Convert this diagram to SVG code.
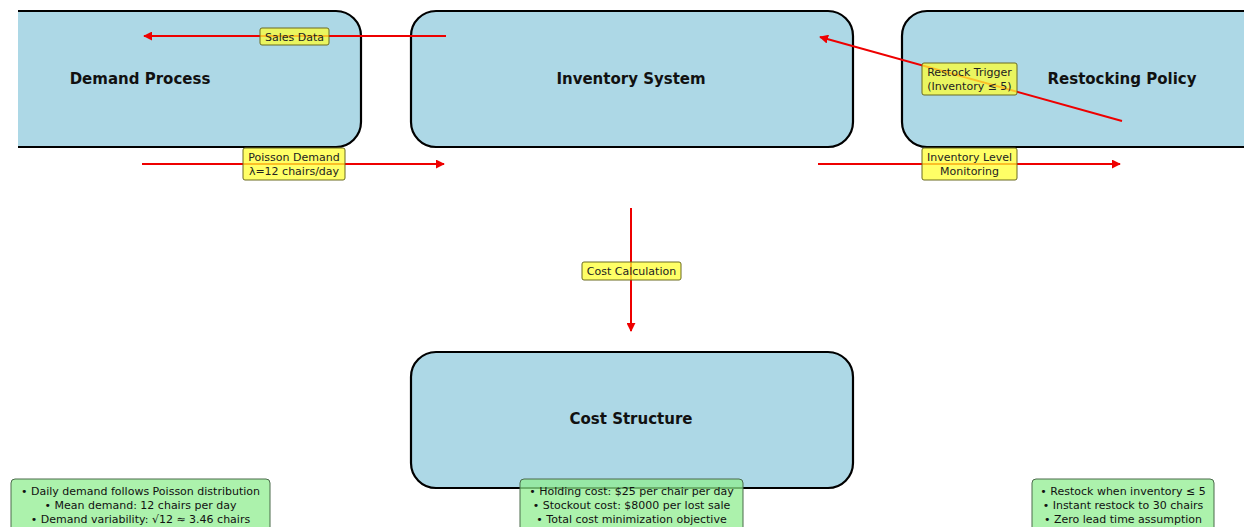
<svg xmlns="http://www.w3.org/2000/svg" width="1244" height="527" viewBox="0 0 1244 527">
<style>
.node{fill:#add8e6;stroke:#000;stroke-width:2.2}
.title{font-family:"DejaVu Sans",sans-serif;font-weight:bold;font-size:15px;fill:#111;text-anchor:middle}
.conn{stroke:#ee0000;stroke-width:2;fill:none;marker-end:url(#ah)}
.lbl{fill:#ffff33;fill-opacity:0.75;stroke:#6b6b20;stroke-width:1}
.lt{font-family:"DejaVu Sans",sans-serif;font-size:11px;fill:#222;text-anchor:middle}
.info{fill:#90ee90;fill-opacity:0.75;stroke:#4a6a4a;stroke-width:1}
.it{font-family:"DejaVu Sans",sans-serif;font-size:11px;fill:#111;text-anchor:middle}
</style>
<defs>
<marker id="ah" viewBox="0 0 10 10" refX="9" refY="5" markerWidth="4.5" markerHeight="4.5" orient="auto" markerUnits="strokeWidth">
<path d="M0,0 L10,5 L0,10 z" fill="#ee0000"/>
</marker>
<clipPath id="vis"><rect x="18" y="0" width="1226" height="527"/></clipPath>
</defs>
<rect width="1244" height="527" fill="#fff"/>
<g id="node-demand" clip-path="url(#vis)">
<rect class="node" x="-100" y="11" width="461" height="136" rx="25"/>
<text class="title" x="140" y="84">Demand Process</text>
</g>
<g id="node-inventory">
<rect class="node" x="411" y="11" width="442" height="136" rx="25"/>
<text class="title" x="631" y="84">Inventory System</text>
</g>
<g id="node-restocking">
<rect class="node" x="902" y="11" width="442" height="136" rx="25"/>
<text class="title" x="1122" y="84">Restocking Policy</text>
</g>
<g id="node-cost">
<rect class="node" x="411" y="352" width="442" height="136" rx="25"/>
<text class="title" x="631" y="424">Cost Structure</text>
</g>
<g id="connectors">
<line class="conn" x1="446" y1="36" x2="144" y2="36"/>
<line class="conn" x1="142" y1="164" x2="444" y2="164"/>
<line class="conn" x1="1122" y1="121" x2="820" y2="37"/>
<line class="conn" x1="818" y1="164" x2="1120" y2="164"/>
<line class="conn" x1="631" y1="208" x2="631" y2="331"/>
<rect class="lbl" x="260" y="28" width="69" height="17" rx="2"/>
<text class="lt" x="294.5" y="40.5">Sales Data</text>
<rect class="lbl" x="243" y="148" width="102" height="32" rx="2"/>
<text class="lt" x="294" y="161">Poisson Demand</text>
<text class="lt" x="294" y="175">λ=12 chairs/day</text>
<rect class="lbl" x="922" y="63" width="95" height="32" rx="2"/>
<text class="lt" x="969.5" y="76">Restock Trigger</text>
<text class="lt" x="969.5" y="90">(Inventory ≤ 5)</text>
<rect class="lbl" x="922" y="148" width="95" height="32" rx="2"/>
<text class="lt" x="969.5" y="161">Inventory Level</text>
<text class="lt" x="969.5" y="175">Monitoring</text>
<rect class="lbl" x="582" y="262" width="99" height="18" rx="2"/>
<text class="lt" x="631.5" y="275">Cost Calculation</text>
</g>
<g id="info-demand">
<rect class="info" x="11" y="479" width="259" height="60" rx="4"/>
<text class="it" x="140.5" y="495">• Daily demand follows Poisson distribution</text>
<text class="it" x="140.5" y="509">• Mean demand: 12 chairs per day</text>
<text class="it" x="140.5" y="523">• Demand variability: √12 ≈ 3.46 chairs</text>
</g>
<g id="info-cost">
<rect class="info" x="520" y="479" width="223" height="60" rx="4"/>
<text class="it" x="631.5" y="495">• Holding cost: $25 per chair per day</text>
<text class="it" x="631.5" y="509">• Stockout cost: $8000 per lost sale</text>
<text class="it" x="631.5" y="523">• Total cost minimization objective</text>
</g>
<g id="info-restock">
<rect class="info" x="1032" y="479" width="182" height="60" rx="4"/>
<text class="it" x="1123" y="495">• Restock when inventory ≤ 5</text>
<text class="it" x="1123" y="509">• Instant restock to 30 chairs</text>
<text class="it" x="1123" y="523">• Zero lead time assumption</text>
</g>
</svg>
